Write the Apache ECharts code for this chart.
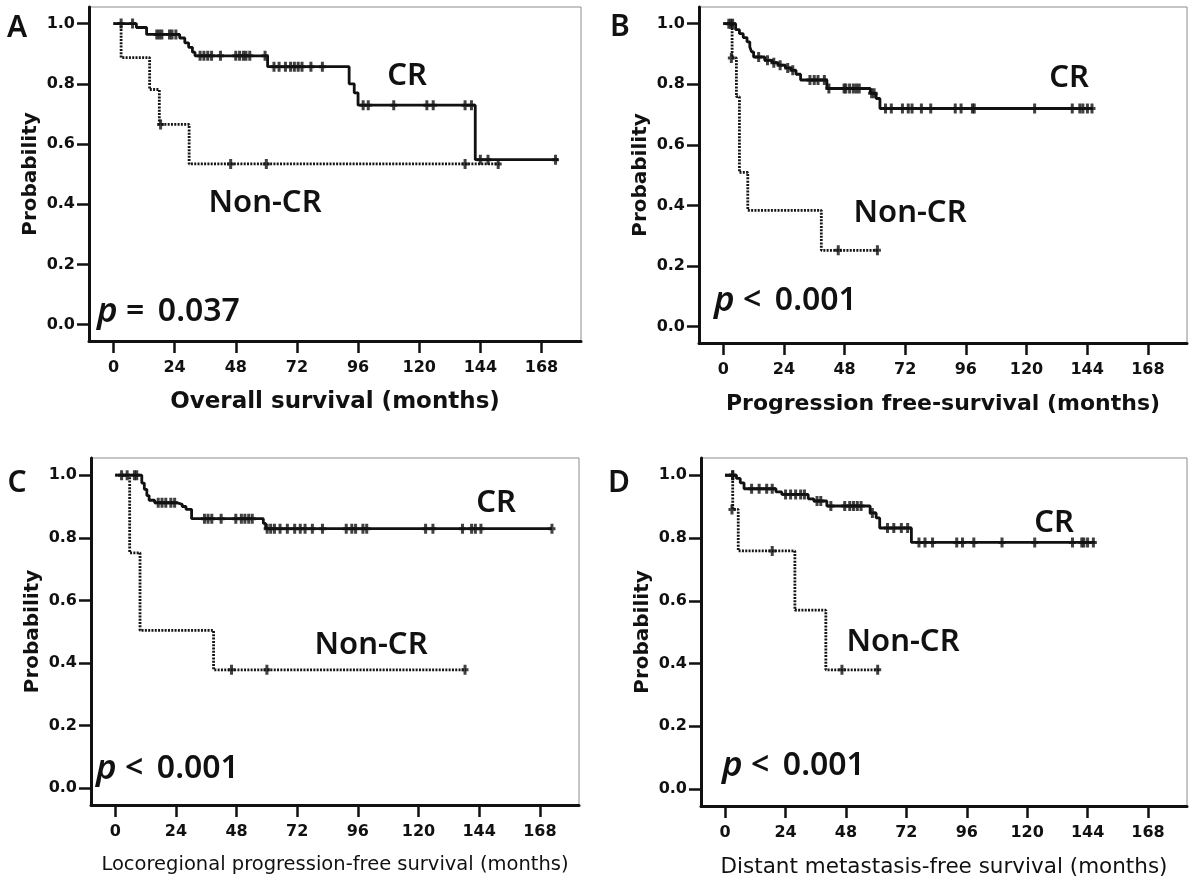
<!DOCTYPE html>
<html>
<head>
<meta charset="utf-8">
<script src="https://cdn.jsdelivr.net/npm/echarts@6/dist/echarts.min.js"></script>
<style>
html,body{margin:0;padding:0;background:#fff;}
#chart{width:1192px;height:880px;}
</style>
</head>
<body>
<div id="chart"></div>
<script>
// ---------- data ----------
const xTicks = [0, 24, 48, 72, 96, 120, 144, 168];
const yTicks = [0, 0.2, 0.4, 0.6, 0.8, 1.0];
const panelLetters = ['A', 'B', 'C', 'D'];
const xTitles = [
  'Overall survival (months)',
  'Progression free-survival (months)',
  'Locoregional progression-free survival (months)',
  'Distant metastasis-free survival (months)'
];
const yTitle = 'Probability';
const pSigns = ['=', '<', '<', '<'];
const pValues = ['0.037', '0.001', '0.001', '0.001'];
const groupNames = ['CR', 'Non-CR'];

// Panel A: overall survival  [months, probability]
const osCR = [[0,1],[9,0.987],[13,0.964],[26,0.952],[28,0.936],[29.5,0.921],[31,0.905],[32,0.893],[60.5,0.857],[92.5,0.80],[94.5,0.77],[96,0.729],[142,0.548],[174.5,0.548]];
const osCRCens = [[3,1],[7.5,1],[17,0.964],[18,0.964],[19,0.964],[22,0.964],[23,0.964],[24.5,0.964],[34,0.893],[35.5,0.893],[37,0.893],[38.5,0.893],[42,0.893],[48,0.893],[49.5,0.893],[51,0.893],[52,0.893],[53.5,0.893],[59.5,0.893],[63,0.857],[65,0.857],[67.5,0.857],[69.5,0.857],[71,0.857],[72.5,0.857],[74,0.857],[77.5,0.857],[82,0.857],[98,0.729],[100,0.729],[110,0.729],[123,0.729],[125.5,0.729],[138,0.729],[140.5,0.729],[144,0.548],[147,0.548],[173.5,0.548]];
const osNon = [[0,1],[3,0.887],[14.2,0.781],[18,0.665],[29.7,0.534],[151.5,0.534]];
const osNonCens = [[18.5,0.665],[46,0.534],[60,0.534],[138,0.534],[151,0.534]];

// Panel B: progression-free survival
const pfsCR = [[0,1],[4.9,0.98],[6.4,0.967],[7.9,0.954],[9.4,0.94],[10.5,0.923],[11.2,0.907],[12,0.89],[16.4,0.879],[19.4,0.871],[21.7,0.863],[24.6,0.854],[26.9,0.846],[28.8,0.833],[30.6,0.814],[41,0.786],[58.2,0.77],[60.5,0.753],[62,0.72],[146.3,0.72]];
const pfsCRCens = [[2.2,1],[3.7,1],[14,0.89],[17.5,0.879],[20,0.871],[22.5,0.863],[25.5,0.854],[27.5,0.846],[34.3,0.814],[36,0.814],[37.5,0.814],[40,0.814],[41.8,0.786],[47.8,0.786],[48.5,0.786],[50,0.786],[51.5,0.786],[52.7,0.786],[53.8,0.786],[58.7,0.77],[59.7,0.77],[64.2,0.72],[66.5,0.72],[70.9,0.72],[73.2,0.72],[74.7,0.72],[78.4,0.72],[82.1,0.72],[91.8,0.72],[94.1,0.72],[98.6,0.72],[99.3,0.72],[123.2,0.72],[138.1,0.72],[141.1,0.72],[142.3,0.72],[144.1,0.72],[145.9,0.72]];
const pfsNon = [[0,1],[3.5,0.887],[5.2,0.759],[6.4,0.509],[9.7,0.384],[38.8,0.252],[61.2,0.252]];
const pfsNonCens = [[3,1],[3.2,0.887],[45.5,0.252],[61,0.252]];

// Panel C: locoregional progression-free survival
const lrCR = [[0,1],[10.5,0.975],[11.5,0.955],[12.5,0.935],[13.4,0.92],[15.6,0.912],[24.4,0.907],[26.5,0.9],[28,0.891],[30.2,0.861],[58.6,0.846],[59.5,0.829],[172.8,0.829]];
const lrCRCens = [[2.5,1],[4.7,1],[7.6,1],[8.5,1],[17,0.912],[18.5,0.912],[20,0.912],[22,0.912],[23.5,0.912],[35.3,0.861],[36.7,0.861],[38.2,0.861],[41.9,0.861],[47.7,0.861],[49.9,0.861],[51.3,0.861],[52.8,0.861],[54.2,0.861],[60.1,0.829],[61.5,0.829],[63,0.829],[65.2,0.829],[68.1,0.829],[71,0.829],[73.2,0.829],[75.1,0.829],[78,0.829],[82,0.829],[91.4,0.829],[93.6,0.829],[95.1,0.829],[98,0.829],[99.5,0.829],[122.8,0.829],[125.7,0.829],[137.4,0.829],[141,0.829],[142.5,0.829],[144.7,0.829],[172.8,0.829]];
const lrNon = [[0,1],[5.7,0.752],[9.8,0.504],[38.9,0.378],[138.8,0.378]];
const lrNonCens = [[46,0.378],[60,0.378],[138.4,0.378]];

// Panel D: distant metastasis-free survival
const dmCR = [[0,1],[4.5,0.99],[6,0.976],[7.5,0.957],[20.2,0.947],[22.5,0.939],[33,0.925],[35.2,0.918],[40.4,0.902],[57.6,0.88],[60,0.864],[61.4,0.832],[74,0.786],[147,0.786]];
const dmCRCens = [[3,1],[10.5,0.957],[13.5,0.957],[16.5,0.957],[18.7,0.957],[24,0.939],[26,0.939],[28,0.939],[30,0.939],[31.5,0.939],[36.5,0.918],[38,0.918],[42,0.902],[47.5,0.902],[49.5,0.902],[51,0.902],[52.5,0.902],[54,0.902],[58.5,0.88],[64.5,0.832],[67,0.832],[70,0.832],[72.5,0.832],[77,0.786],[79.4,0.786],[82.4,0.786],[92,0.786],[94.3,0.786],[98.8,0.786],[110,0.786],[123,0.786],[138,0.786],[141.7,0.786],[142.5,0.786],[144,0.786],[146.3,0.786]];
const dmNon = [[0,1],[3,0.891],[5.2,0.759],[27.7,0.57],[40,0.38],[61.4,0.38]];
const dmNonCens = [[3,1],[2.7,0.891],[18.7,0.759],[46.4,0.38],[60.6,0.38]];

// ---------- layout / style ----------
const panels = [
  {grid:{left:89, top:7, width:492, height:334}, cr:osCR, crC:osCRCens, non:osNon, nonC:osNonCens,
   bold:true, nameSize:23, letter:[17,28], crPos:[407,76], nonPos:[265,203], pPos:[97,312]},
  {grid:{left:699, top:7, width:488, height:336}, cr:pfsCR, crC:pfsCRCens, non:pfsNon, nonC:pfsNonCens,
   bold:true, nameSize:22, letter:[620,27], crPos:[1069,78], nonPos:[910,213], pPos:[714,301]},
  {grid:{left:91, top:458, width:488, height:347}, cr:lrCR, crC:lrCRCens, non:lrNon, nonC:lrNonCens,
   bold:false, nameSize:19.5, letter:[17,483], crPos:[496,503], nonPos:[371,645], pPos:[96,769]},
  {grid:{left:701, top:458, width:486, height:348}, cr:dmCR, crC:dmCRCens, non:dmNon, nonC:dmNonCens,
   bold:false, nameSize:21.5, letter:[619,483], crPos:[1054,523], nonPos:[903,642], pPos:[722,766]}
];

const INK = '#111';
const tickFont = 'DejaVu Sans';
const annFont = 'Noto Sans';
const censorSymbol = 'path://M-1.5,-5L1.5,-5L1.5,-1.5L3.5,-1.5L3.5,1.5L1.5,1.5L1.5,5L-1.5,5L-1.5,1.5L-3.5,1.5L-3.5,-1.5L-1.5,-1.5Z';

const grids = [], xAxes = [], yAxes = [], series = [], graphics = [];

panels.forEach((p, i) => {
  grids.push(Object.assign({show:true, borderColor:'#8c8c8c', borderWidth:1, backgroundColor:'#fff'}, p.grid));
  xAxes.push({
    type:'value', gridIndex:i, min:-9.6, max:183.5,
    name:xTitles[i], nameLocation:'middle', nameGap:50,
    nameTextStyle:{fontFamily:tickFont, fontSize:p.nameSize, fontWeight:p.bold?'bold':'normal', color:INK},
    axisLine:{show:true, onZero:false, lineStyle:{color:INK, width:3}},
    axisTick:{show:true, length:12, customValues:xTicks, lineStyle:{color:INK, width:2.5}},
    axisLabel:{show:true, margin:19, customValues:xTicks, fontFamily:tickFont, fontSize:16, fontWeight:'bold', color:INK},
    splitLine:{show:false}
  });
  yAxes.push({
    type:'value', gridIndex:i, min:-0.054, max:1.055,
    name:yTitle, nameLocation:'middle', nameGap:48,
    nameTextStyle:{fontFamily:tickFont, fontSize:20, fontWeight:'bold', color:INK},
    axisLine:{show:true, onZero:false, lineStyle:{color:INK, width:3}},
    axisTick:{show:true, length:12, customValues:yTicks, lineStyle:{color:INK, width:2.5}},
    axisLabel:{show:true, margin:14, customValues:yTicks, fontFamily:tickFont, fontSize:16, fontWeight:'bold', color:INK,
      formatter:v => Number(v).toFixed(1)},
    splitLine:{show:false}
  });
  series.push({
    name:groupNames[1], type:'line', xAxisIndex:i, yAxisIndex:i, step:'end', data:p.non,
    symbol:'none', lineStyle:{color:'#151515', width:2.8, type:[2,1.3]}, z:3, animation:false
  });
  series.push({
    name:groupNames[0], type:'line', xAxisIndex:i, yAxisIndex:i, step:'end', data:p.cr,
    symbol:'none', lineStyle:{color:INK, width:2.8, type:'solid'}, z:4, animation:false
  });
  series.push({
    type:'scatter', xAxisIndex:i, yAxisIndex:i, data:p.nonC, symbol:censorSymbol, symbolSize:[7,10],
    itemStyle:{color:INK}, z:5, animation:false, silent:true
  });
  series.push({
    type:'scatter', xAxisIndex:i, yAxisIndex:i, data:p.crC, symbol:censorSymbol, symbolSize:[7,10],
    itemStyle:{color:INK}, z:5, animation:false, silent:true
  });
  graphics.push({type:'text', x:p.letter[0], y:p.letter[1], z:10,
    style:{text:panelLetters[i], fontFamily:annFont, fontSize:30, fontWeight:600, fill:INK, align:'center', verticalAlign:'middle'}});
  graphics.push({type:'text', x:p.crPos[0], y:p.crPos[1], z:10,
    style:{text:groupNames[0], fontFamily:annFont, fontSize:31, fontWeight:600, fill:INK, align:'center', verticalAlign:'middle'}});
  graphics.push({type:'text', x:p.nonPos[0], y:p.nonPos[1], z:10,
    style:{text:groupNames[1], fontFamily:annFont, fontSize:31, fontWeight:600, fill:INK, align:'center', verticalAlign:'middle'}});
  graphics.push({type:'text', x:p.pPos[0], y:p.pPos[1], z:10,
    style:{text:'{i|p} ' + pSigns[i] + ' \u2009' + pValues[i], fontFamily:annFont, fontSize:32, fontWeight:600, fill:INK, align:'left', verticalAlign:'middle',
      rich:{i:{fontFamily:annFont, fontSize:35, fontStyle:'italic', fontWeight:600, fill:INK}}}});
});

const chart = echarts.init(document.getElementById('chart'), null, {renderer:'canvas'});
chart.setOption({
  backgroundColor:'#fff',
  animation:false,
  grid:grids, xAxis:xAxes, yAxis:yAxes, series:series, graphic:graphics
});
</script>
</body>
</html>
